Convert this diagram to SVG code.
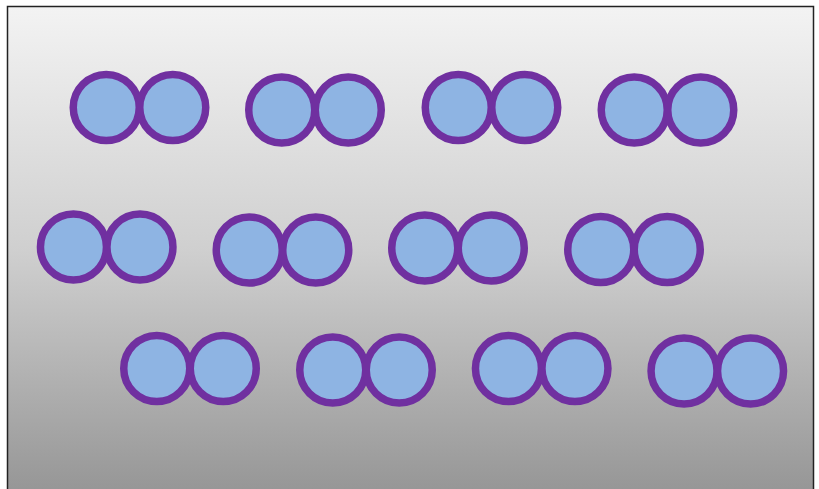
<svg xmlns="http://www.w3.org/2000/svg" width="819" height="489" viewBox="0 0 819 489">
<defs>
<linearGradient id="bg" x1="0" y1="0" x2="0" y2="1">
<stop offset="0" stop-color="#f3f3f3"/>
<stop offset="0.5" stop-color="#cfcfcf"/>
<stop offset="1" stop-color="#959595"/>
</linearGradient>
<g id="pair">
<circle cx="-33.25" cy="0" r="33" class="c"/>
<circle cx="33.25" cy="0" r="33" class="c"/>
</g>
</defs>
<style>
.c { fill: #8eb4e3; stroke: #7030a0; stroke-width: 7.5; }
</style>
<rect x="7.5" y="6.5" width="806" height="490" fill="url(#bg)" stroke="#222" stroke-width="1.5"/>
<g id="nodes">
<g id="r1p1"><use href="#pair" x="139.5" y="107.5"/></g>
<g id="r1p2"><use href="#pair" x="315" y="110"/></g>
<g id="r1p3"><use href="#pair" x="491.5" y="107.5"/></g>
<g id="r1p4"><use href="#pair" x="667.5" y="110"/></g>
<g id="r2p1"><use href="#pair" x="106.7" y="247"/></g>
<g id="r2p2"><use href="#pair" x="282.5" y="250"/></g>
<g id="r2p3"><use href="#pair" x="458" y="248"/></g>
<g id="r2p4"><use href="#pair" x="634" y="249.5"/></g>
<g id="r3p1"><use href="#pair" x="190" y="368.5"/></g>
<g id="r3p2"><use href="#pair" x="366" y="370"/></g>
<g id="r3p3"><use href="#pair" x="541.7" y="368.5"/></g>
<g id="r3p4"><use href="#pair" x="717.3" y="371"/></g>
</g>
<g id="connectors"/>
</svg>
